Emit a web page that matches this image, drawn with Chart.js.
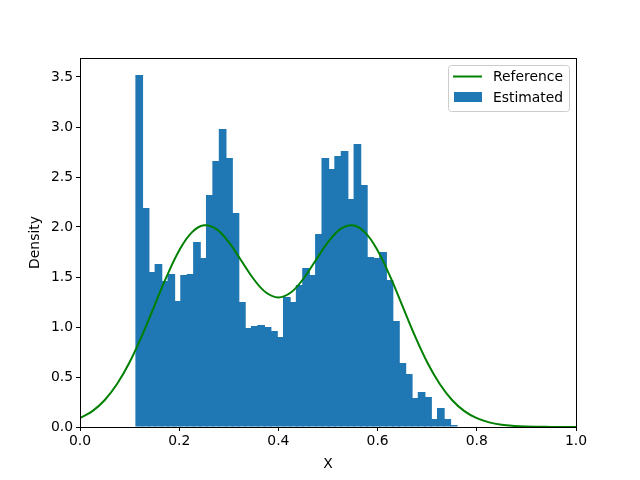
<!DOCTYPE html>
<html>
<head>
<meta charset="utf-8">
<script src="https://cdn.jsdelivr.net/npm/chart.js@4/dist/chart.umd.min.js"></script>
<style>
html,body{margin:0;padding:0;background:#fff;}
#wrap{width:640px;height:480px;}
</style>
</head>
<body>
<div id="wrap"><canvas id="c" width="640" height="480"></canvas></div>
<script>
// Histogram bin centers (X) and estimated densities
const binCenters = [0.1194,0.1323,0.1452,0.1582,0.1711,0.1841,0.1970,0.2099,0.2229,0.2358,
  0.2488,0.2617,0.2746,0.2876,0.3005,0.3135,0.3264,0.3393,0.3523,0.3652,
  0.3782,0.3911,0.4040,0.4170,0.4299,0.4429,0.4558,0.4687,0.4817,0.4946,
  0.5076,0.5205,0.5334,0.5464,0.5593,0.5723,0.5852,0.5981,0.6111,0.6240,
  0.6370,0.6499,0.6628,0.6758,0.6887,0.7017,0.7146,0.7275,0.7405,0.7534];
const estimated = [3.52,2.19,1.55,1.63,1.46,1.53,1.26,1.52,1.53,1.85,
  1.69,2.32,2.66,2.98,2.69,2.14,1.25,0.99,1.01,1.02,
  1.00,0.96,0.90,1.30,1.25,1.42,1.59,1.52,1.93,2.69,
  2.58,2.71,2.76,2.28,2.83,2.42,1.70,1.69,1.75,1.47,
  1.06,0.64,0.53,0.29,0.35,0.30,0.08,0.19,0.08,0.02];
// Reference density curve
const refX = [0,0.025,0.05,0.075,0.1,0.125,0.15,0.175,0.2,0.225,0.25,0.275,0.3,0.325,0.35,0.375,0.4,
  0.425,0.45,0.475,0.5,0.525,0.55,0.575,0.6,0.625,0.65,0.675,0.7,0.725,0.75,0.775,0.8,
  0.825,0.85,0.875,0.9,0.925,0.95,0.975,1.0];
const refY = [0.088,0.159,0.270,0.432,0.648,0.914,1.211,1.508,1.765,1.944,2.017,1.979,1.848,1.665,1.480,1.345,1.296,
  1.345,1.480,1.665,1.848,1.979,2.017,1.944,1.765,1.508,1.211,0.914,0.648,0.432,0.270,0.159,0.088,
  0.046,0.022,0.010,0.004,0.002,0.001,0.0002,0.0001];
const xTicks = [0,0.2,0.4,0.6,0.8,1.0];
const yTicks = [0,0.5,1.0,1.5,2.0,2.5,3.0,3.5];
const seriesNames = ['Reference','Estimated'];

const FONT = "'DejaVu Sans', sans-serif";
const FS = 13.9;

const frame = {
  id:'frame',
  afterDatasetsDraw(chart){
    const {ctx, chartArea:a} = chart;
    ctx.save();
    ctx.strokeStyle='#000'; ctx.lineWidth=1;
    ctx.strokeRect(Math.round(a.left)+0.5, Math.round(a.top)+0.5, Math.round(a.right-a.left), Math.round(a.bottom-a.top));
    // legend
    const L = a.right - 128, T = a.top + 7, W = 121, H = 46;
    ctx.fillStyle='rgba(255,255,255,0.8)';
    ctx.strokeStyle='#cccccc';
    ctx.beginPath();
    if (ctx.roundRect) ctx.roundRect(L+0.5,T+0.5,W,H,3); else ctx.rect(L+0.5,T+0.5,W,H);
    ctx.fill(); ctx.stroke();
    ctx.strokeStyle='green'; ctx.lineWidth=2;
    ctx.beginPath(); ctx.moveTo(L+5,T+11.5); ctx.lineTo(L+34,T+11.5); ctx.stroke();
    ctx.fillStyle='#1f77b4';
    ctx.fillRect(L+6,T+27,28,10);
    ctx.fillStyle='#000';
    ctx.font = FS+'px '+FONT;
    ctx.textBaseline='middle';
    ctx.fillText(seriesNames[0], L+45, T+12);
    ctx.fillText(seriesNames[1], L+45, T+33);
    ctx.restore();
  }
};

new Chart(document.getElementById('c'), {
  data: {
    datasets: [
      {type:'line', label:seriesNames[0], data: refX.map((x,i)=>({x:x,y:refY[i]})),
       borderColor:'green', borderWidth:2, pointRadius:0, tension:0.4, fill:false, order:0},
      {type:'bar', label:seriesNames[1], data: binCenters.map((x,i)=>({x:x,y:estimated[i]})),
       backgroundColor:'#1f77b4', borderWidth:0, inflateAmount:0, barPercentage:1.2, categoryPercentage:1.0, order:1}
    ]
  },
  options: {
    responsive:false, animation:false,
    layout:{padding:{top:58,right:64,left:27,bottom:7}},
    plugins:{legend:{display:false}, tooltip:{enabled:false}},
    scales:{
      x:{type:'linear', min:0, max:1, offset:false,
         afterBuildTicks(s){ s.ticks = xTicks.map(v=>({value:v})); },
         afterFit(s){ s.height = 46; },
         grid:{display:true, offset:false, drawOnChartArea:false, drawTicks:true, tickLength:4, color:'#000'},
         border:{display:true, color:'#000'},
         ticks:{color:'#000', font:{family:FONT,size:FS}, padding:2, maxRotation:0, callback:v=>Number(v).toFixed(1)},
         title:{display:true, text:'X', color:'#000', font:{family:FONT,size:FS}, padding:{top:2,bottom:0}}},
      y:{type:'linear', min:0, max:3.69,
         afterBuildTicks(s){ s.ticks = yTicks.map(v=>({value:v})); },
         afterFit(s){ s.width = 53; },
         grid:{display:true, offset:false, drawOnChartArea:false, drawTicks:true, tickLength:4, color:'#000'},
         border:{display:true, color:'#000'},
         ticks:{color:'#000', font:{family:FONT,size:FS}, padding:3, callback:v=>Number(v).toFixed(1)},
         title:{display:true, text:'Density', color:'#000', font:{family:FONT,size:FS}, padding:{top:0,bottom:4}}}
    }
  },
  plugins:[frame]
});
</script>
</body>
</html>
